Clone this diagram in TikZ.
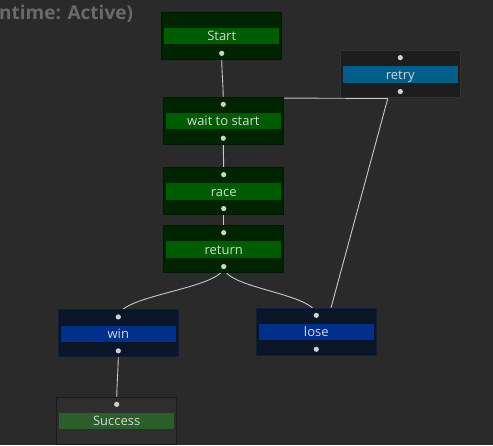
\documentclass[tikz,border=0pt]{standalone}
\usepackage{fontspec}
\setmainfont{Open Sans}
\usetikzlibrary{backgrounds}

\definecolor{canvas}{HTML}{2A2A2A}
\definecolor{titlegray}{HTML}{6A6A6A}
\definecolor{label}{HTML}{D6D6D6}
\definecolor{portgray}{HTML}{D0D0D0}
\definecolor{wiregray}{HTML}{C8C8C8}
\definecolor{gbody}{HTML}{002400}
\definecolor{gline}{HTML}{001700}
\definecolor{gbar}{HTML}{005C00}
\definecolor{bbody}{HTML}{0A1527}
\definecolor{bline}{HTML}{0F1E3A}
\definecolor{bbar}{HTML}{00308A}
\definecolor{rbody}{HTML}{1D1D1D}
\definecolor{rline}{HTML}{323232}
\definecolor{rbar}{HTML}{005E88}
\definecolor{sbody}{HTML}{2E2E2E}
\definecolor{sline}{HTML}{1C1C1C}
\definecolor{sbar}{HTML}{2B5E2B}

\tikzset{
  task/.style 2 args={draw=#1, fill=#2, line width=1pt, minimum width=120pt,
    minimum height=46.7pt, inner sep=0pt, text=label,
    font=\fontsize{13}{15}\selectfont, text height=13pt, text depth=3pt},
  bar/.style={path picture={\fill[#1]
    ([xshift=2.5pt,yshift=-15.7pt]path picture bounding box.north west) rectangle
    ([xshift=-2.5pt,yshift=-32pt]path picture bounding box.north east);}},
  port/.style={fill=portgray},
  wire/.style={draw=wiregray, line width=0.9pt}
}

\begin{document}
\begin{tikzpicture}[x=1pt, y=-1pt]
    \useasboundingbox (0,0) rectangle (493,445);
    \node[anchor=base west, inner sep=0pt, text=titlegray,
          font=\bfseries\fontsize{19}{22}\selectfont] (title) at (-1,19) {ntime: Active)};

    \node[task={gline}{gbody}, bar=gbar] (start) at (221.7,35.8)  {Start};
    \node[task={gline}{gbody}, bar=gbar] (wait)  at (223.3,120.7) {wait to start};
    \node[task={gline}{gbody}, bar=gbar] (race)  at (223.7,191)   {race};
    \node[task={gline}{gbody}, bar=gbar] (ret)   at (223.7,249)   {return};
    \node[task={bline}{bbody}, bar=bbar] (win)   at (118.3,333.3) {win};
    \node[task={bline}{bbody}, bar=bbar] (lose)  at (316.3,331.7) {lose};
    \node[task={rline}{rbody}, bar=rbar] (retry) at (400.3,74)    {retry};
    \node[task={sline}{sbody}, bar=sbar] (succ)  at (116.7,420.7) {Success};

    % ports
    \foreach \n in {wait,race,ret,win,lose,retry,succ}
      \fill[port] ([yshift=-7.5pt]\n.north) circle (2.6pt);
    \foreach \n in {start,wait,race,ret,win,lose,retry}
      \fill[port] ([yshift=6.3pt]\n.south) circle (2.6pt);

    \coordinate (rj) at ([xshift=-12.5pt,yshift=-0.6pt]retry.south);

    \begin{scope}[on background layer]
      \fill[canvas] (0,0) rectangle (493,445);
      \foreach \a/\b in {start/wait, wait/race, race/ret, ret/win, ret/lose, win/succ}
        \draw[wire] ([yshift=6.3pt]\a.south) .. controls +(0,22) and +(0,-22) .. ([yshift=-7.5pt]\b.north);
      \draw[wire] ([xshift=14.7pt]lose.north) -- (rj);
      \draw[wire] (rj) -- ([yshift=-1pt]wait.north);
    \end{scope}
\end{tikzpicture}
\end{document}
